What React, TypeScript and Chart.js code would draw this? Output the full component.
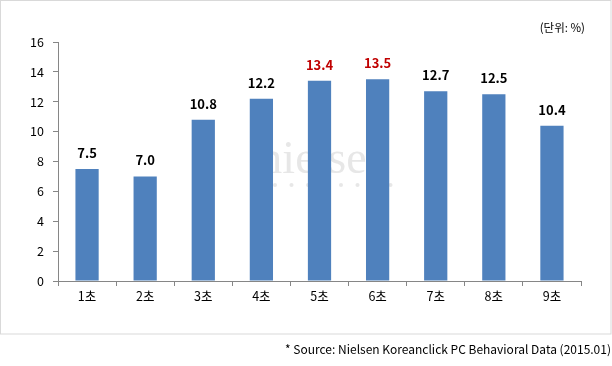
import React, { useEffect, useRef } from "react";
import { Chart, registerables } from "chart.js";

Chart.register(...registerables);

const categories = ["1초", "2초", "3초", "4초", "5초", "6초", "7초", "8초", "9초"];
const values = [7.5, 7.0, 10.8, 12.2, 13.4, 13.5, 12.7, 12.5, 10.4];
const highlighted = [false, false, false, false, true, true, false, false, false];
const unitLabel = "(단위: %)";
const sourceLabel = "* Source: Nielsen Koreanclick PC Behavioral Data (2015.01)";
const watermark = "nielsen";

const FONT = "'Noto Sans CJK KR', 'Noto Sans', sans-serif";

export default function App() {
  const ref = useRef<HTMLCanvasElement | null>(null);

  useEffect(() => {
    document.body.style.margin = "0";
    const canvas = ref.current;
    if (!canvas) return;

    const decor = {
      id: "decor",
      beforeDraw(chart: any) {
        const ctx = chart.ctx;
        ctx.save();
        ctx.fillStyle = "#ffffff";
        ctx.fillRect(0, 0, chart.width, chart.height);
        ctx.strokeStyle = "#d9d9d9";
        ctx.lineWidth = 1;
        ctx.strokeRect(0.5, 0.5, 610.5, 333.5);
        ctx.fillStyle = "#000";
        ctx.font = `11.5px ${FONT}`;
        ctx.textAlign = "right";
        ctx.textBaseline = "middle";
        ctx.fillText(unitLabel, 585, 28);
        ctx.font = `12px ${FONT}`;
        ctx.fillText(sourceLabel, 611, 349);
        ctx.restore();
      },
      beforeDatasetsDraw(chart: any) {
        const ctx = chart.ctx;
        ctx.save();
        ctx.fillStyle = "rgba(215,215,215,0.6)";
        ctx.font = "46px 'Liberation Serif', serif";
        ctx.textAlign = "center";
        ctx.textBaseline = "alphabetic";
        const a = chart.chartArea;
        const cx = (a.left + a.right) / 2 + 5;
        ctx.fillText(watermark, cx, 173);
        for (let i = 0; i < 9; i++) {
          ctx.beginPath();
          ctx.arc(cx - 66 + i * 16.5, 185, 2, 0, Math.PI * 2);
          ctx.fill();
        }
        ctx.restore();
      },
      afterDatasetsDraw(chart: any) {
        const ctx = chart.ctx;
        const meta = chart.getDatasetMeta(0);
        ctx.save();
        ctx.font = `bold 13px ${FONT}`;
        ctx.textAlign = "center";
        ctx.textBaseline = "middle";
        meta.data.forEach((bar: any, i: number) => {
          ctx.fillStyle = highlighted[i] ? "#C00000" : "#000000";
          ctx.fillText(values[i].toFixed(1), bar.x, bar.y - 16);
        });
        ctx.restore();
      },
    };

    const chart = new Chart(canvas, {
      type: "bar",
      data: {
        labels: categories,
        datasets: [
          {
            data: values,
            backgroundColor: "#4F81BD",
            barPercentage: 0.4,
            categoryPercentage: 1,
          },
        ],
      },
      options: {
        responsive: false,
        animation: false,
        layout: { padding: { left: 0, right: 31, top: 42, bottom: 0 } },
        plugins: {
          legend: { display: false },
          tooltip: { enabled: false },
        },
        scales: {
          x: {
            grid: {
              display: true,
              drawOnChartArea: false,
              drawTicks: true,
              tickLength: 5,
              color: "#868686",
              offset: true,
            },
            border: { color: "#868686", width: 1 },
            ticks: {
              color: "#000",
              font: { family: FONT, size: 12.5 },
              padding: 3,
            },
            afterFit(scale: any) {
              scale.height = 85;
            },
          },
          y: {
            min: 0,
            max: 16,
            grid: {
              display: true,
              drawOnChartArea: false,
              drawTicks: true,
              tickLength: 5,
              color: "#868686",
            },
            border: { color: "#868686", width: 1 },
            ticks: {
              stepSize: 2,
              color: "#000",
              font: { family: FONT, size: 12.5 },
              padding: 9,
            },
            afterFit(scale: any) {
              scale.width = 58;
            },
          },
        },
      },
      plugins: [decor],
    });

    return () => chart.destroy();
  }, []);

  return (
    <div style={{ width: 612, height: 366 }}>
      <canvas ref={ref} width={612} height={366} />
    </div>
  );
}
